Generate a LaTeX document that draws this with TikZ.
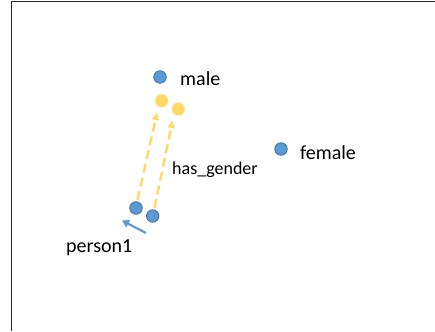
\documentclass[tikz,border=0pt]{standalone}
\usepackage{fontspec}
\setmainfont{Carlito}
\usetikzlibrary{arrows.meta}
\definecolor{dotblue}{HTML}{5B9BD5}
\definecolor{dotedge}{HTML}{41719C}
\definecolor{dotgold}{HTML}{FFD966}
\begin{document}
\begin{tikzpicture}[x=1pt,y=-1pt,
  bluedot/.style={circle,fill=dotblue,draw=dotedge,line width=0.8pt,minimum size=12.5pt,inner sep=0pt},
  golddot/.style={circle,fill=dotgold,draw=none,minimum size=13pt,inner sep=0pt},
  lbl/.style={anchor=west,inner sep=0pt,font=\fontsize{20}{24}\selectfont},
  rel/.style={draw=dotgold,line width=2.4pt,dash pattern=on 9pt off 5pt,-{Triangle[length=7pt,width=7pt]}},
  move/.style={draw=dotblue,line width=2.2pt,-{Triangle[length=7pt,width=8pt]}}]
\useasboundingbox (0,0) rectangle (435,331);
% frame edges
\draw[line width=1.5pt,black!85] (11.5,331) -- (11.5,1.5) -- (435,1.5);
% entity points
\node[bluedot] (male) at (160,77) {};
\node[bluedot] (female) at (281,149) {};
\node[golddot] (g1) at (161.7,100.7) {};
\node[golddot] (g2) at (178.3,109) {};
\node[bluedot] (p1) at (136,208) {};
\node[bluedot] (p2) at (152.7,216) {};
% labels
\node[lbl] (tmale) at (180,79) {male};
\node[lbl] (tfemale) at (300,153) {female};
\node[lbl,font=\fontsize{18}{22}\selectfont] (trel) at (172,170) {has\_gender};
\node[lbl] (tperson) at (66,248) {person1};
% translation arrows
\coordinate (s1) at (137.5,200);
\coordinate (e1) at (157,113);
\coordinate (s2) at (154.5,208);
\coordinate (e2) at (172.5,121);
\draw[rel] (s1) -- (e1);
\draw[rel] (s2) -- (e2);
\coordinate (a0) at (146,233);
\coordinate (a1) at (122,220.5);
\draw[move] (a0) -- (a1);
\end{tikzpicture}
\end{document}
